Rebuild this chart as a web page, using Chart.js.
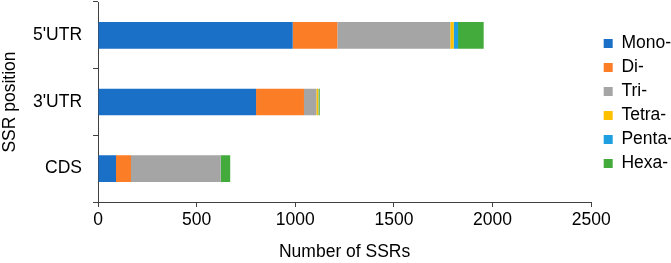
<!DOCTYPE html>
<html>
<head>
<meta charset="utf-8">
<script src="https://cdn.jsdelivr.net/npm/chart.js@4/dist/chart.umd.min.js"></script>
<style>
  html, body { margin: 0; padding: 0; background: #fff; }
  #wrap { width: 671px; height: 263px; position: relative; }
</style>
</head>
<body>
<div id="wrap"><canvas id="c" width="671" height="263"></canvas></div>
<script>
const categories = ["5'UTR", "3'UTR", "CDS"];
const seriesNames = ["Mono-", "Di-", "Tri-", "Tetra-", "Penta-", "Hexa-"];
const mono  = [987, 801, 91];
const di    = [226, 243, 76];
const tri   = [573, 63, 455];
const tetra = [17, 10, 0];
const penta = [22, 2, 0];
const hexa  = [130, 5, 48];
const xTicks = [0, 500, 1000, 1500, 2000, 2500];

const colors = ['#1a6fc7', '#fb7d26', '#a5a5a5', '#ffc000', '#1f9fe0', '#43ab3b'];
const seriesValues = [mono, di, tri, tetra, penta, hexa];

const FONT = 'Liberation Sans, Arial, sans-serif';
const FS = 17.5;
const AXIS = '#404040';

const legendShift = {
  id: 'legendShift',
  afterUpdate(chart) {
    const lg = chart.legend;
    if (!lg) return;
    const dx = 6, dy = -29;
    lg.left += dx; lg.right += dx;
    lg.top += dy; lg.bottom += dy;
    lg.adjustHitBoxes();
  }
};

new Chart(document.getElementById('c'), {
  type: 'bar',
  data: {
    labels: categories,
    datasets: seriesNames.map((n, i) => ({
      label: n,
      data: seriesValues[i],
      backgroundColor: colors[i],
      borderWidth: 0,
      categoryPercentage: 0.4,
      barPercentage: 1.0
    }))
  },
  plugins: [legendShift],
  options: {
    indexAxis: 'y',
    responsive: false,
    animation: false,
    devicePixelRatio: 1,
    layout: { padding: { top: 2, right: -6, left: 0, bottom: 0 } },
    plugins: {
      tooltip: { enabled: false },
      legend: {
        position: 'right',
        align: 'center',
        labels: {
          boxWidth: 9,
          boxHeight: 9,
          padding: 6.5,
          color: '#000',
          font: { family: FONT, size: FS }
        }
      }
    },
    scales: {
      x: {
        stacked: true,
        min: 0,
        max: 2500,
        afterBuildTicks: (s) => { s.ticks = xTicks.map(v => ({ value: v })); },
        ticks: { color: '#000', font: { family: FONT, size: FS }, padding: 3, maxRotation: 0,
                 callback: (v) => String(v) },
        grid: { drawOnChartArea: false, drawTicks: true, tickLength: 5, color: AXIS },
        border: { display: true, color: AXIS, width: 1 },
        title: { display: true, text: 'Number of SSRs', color: '#000', font: { family: FONT, size: FS }, padding: { top: 8, bottom: 0 } }
      },
      y: {
        stacked: true,
        afterFit: (s) => { s.paddingTop = 0; s.paddingBottom = 0; },
        ticks: { color: '#000', font: { family: FONT, size: FS }, padding: 11 },
        grid: { offset: true, drawOnChartArea: false, drawTicks: true, tickLength: 5, color: AXIS },
        border: { display: true, color: AXIS, width: 1 },
        title: { display: true, text: 'SSR position', color: '#000', font: { family: FONT, size: FS }, padding: { top: 0, bottom: 1 } }
      }
    }
  }
});
</script>
</body>
</html>
